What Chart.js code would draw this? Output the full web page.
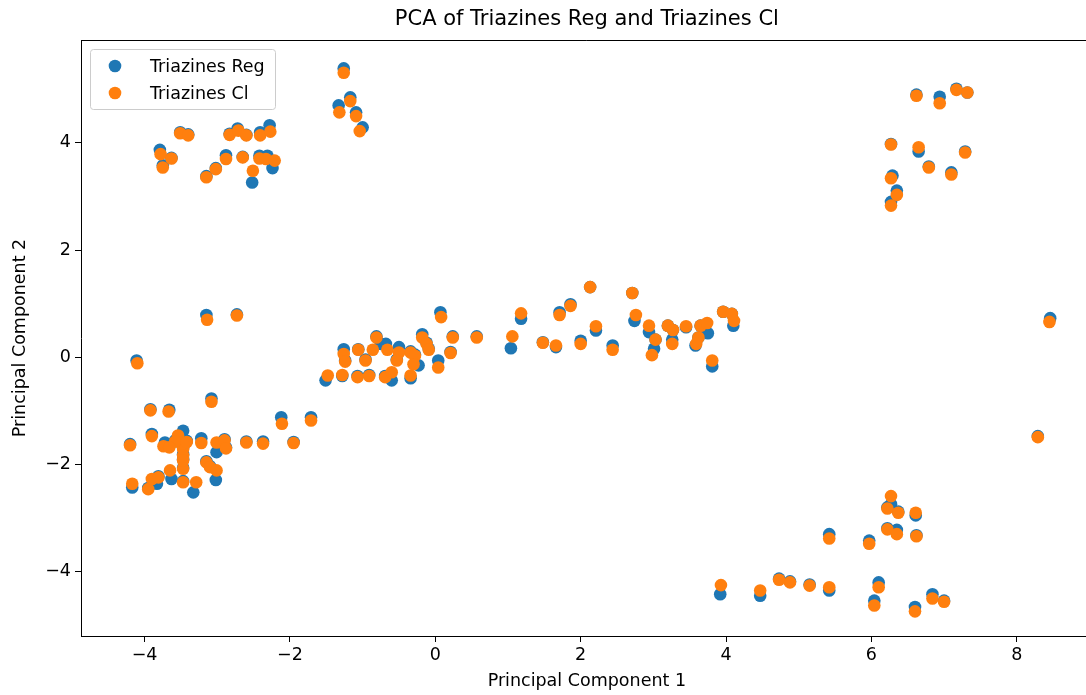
<!DOCTYPE html>
<html>
<head>
<meta charset="utf-8">
<title>PCA of Triazines Reg and Triazines Cl</title>
<script src="https://cdn.jsdelivr.net/npm/chart.js@4.4.1/dist/chart.umd.min.js"></script>
<style>
  html, body { margin: 0; padding: 0; background: #fff; overflow: hidden; }
  canvas { display: block; }
</style>
</head>
<body>
<canvas id="c" width="1099" height="695"></canvas>
<script>
// PCA scores, Triazines Reg
const regX = [
  -1.26, -1.17, -1.33, -1.09, -1.00, -3.51, -3.40, -3.79, -3.63, -3.75, -3.15, -3.02,
  -2.88, -2.83, -2.72, -2.60, -2.41, -2.28, -2.65, -2.42, -2.31, -2.24, -2.52,
  -3.15, -2.73, -4.11, -3.08, -3.92, -3.66, -3.90, -4.20, -3.72, -3.47, -3.51, -3.47,
  -3.47, -3.22, -3.01, -2.90, -2.88, -2.60, -2.37, -2.12, -1.95, -1.71, -4.17, -3.95,
  -3.83, -3.81, -3.63, -3.47, -3.47, -3.33, -3.15, -3.10, -3.02,
  -1.51, -1.28, -1.26, -1.24, -1.06, -1.07, -0.96, -0.91, -0.81, -0.75, -0.68, -0.69,
  -0.60, -0.50, -0.53, -0.34, -0.28, -0.23, -0.34, -0.18, -0.12, -0.09, 0.04, 0.07,
  0.21, 0.24, 0.57, 1.04, 1.18, 1.48, 1.66, 1.71, 1.86, 2.00, 2.13, 2.21, 2.44, 2.71,
  2.74, 2.94, 3.03, 3.01, 3.20, 3.27, 3.26, 3.45, 3.65, 3.75, 3.62, 3.58, 3.81, 3.96,
  4.08, 4.10,
  6.62, 6.94, 7.17, 7.32, 6.27, 6.65, 7.29, 6.79, 7.10, 6.29, 6.35, 6.27,
  8.46, 8.29,
  6.27, 6.22, 6.37, 6.61, 6.22, 6.35, 6.62, 5.42, 5.97, 3.92, 4.47, 4.73, 4.88, 5.15,
  5.42, 6.10, 6.04, 6.60, 6.84, 7.00,
  -3.58, -3.42, -3.66, -3.47
];
const regY = [
  5.39, 4.85, 4.70, 4.57, 4.29, 4.20, 4.16, 3.87, 3.72, 3.58, 3.38, 3.53,
  3.77, 4.17, 4.27, 4.15, 4.20, 4.33, 3.74, 3.76, 3.76, 3.53, 3.26,
  0.79, 0.80, -0.06, -0.77, -0.97, -0.98, -1.43, -1.62, -1.59, -1.37, -1.57, -1.69,
  -1.81, -1.51, -1.77, -1.53, -1.68, -1.57, -1.57, -1.12, -1.58, -1.12, -2.43, -2.44,
  -2.36, -2.22, -2.27, -2.06, -2.31, -2.52, -1.94, -2.03, -2.29,
  -0.43, -0.35, 0.15, -0.06, 0.15, -0.35, -0.04, -0.33, 0.39, 0.25, 0.25, -0.35,
  -0.43, 0.19, -0.04, 0.11, 0.05, -0.15, -0.39, 0.43, 0.27, 0.16, -0.06, 0.84,
  0.10, 0.39, 0.39, 0.17, 0.72, 0.28, 0.19, 0.84, 0.99, 0.31, 1.31, 0.50, 0.22, 1.20,
  0.68, 0.47, 0.33, 0.16, 0.59, 0.51, 0.33, 0.56, 0.59, 0.45, 0.37, 0.22, -0.17, 0.85,
  0.81, 0.59,
  4.90, 4.86, 5.01, 4.94, 3.98, 3.84, 3.84, 3.56, 3.45, 3.39, 3.11, 2.90,
  0.73, -1.47,
  -2.74, -2.80, -2.88, -2.95, -3.19, -3.22, -3.32, -3.30, -3.42, -4.42, -4.45, -4.13,
  -4.18, -4.24, -4.35, -4.20, -4.54, -4.66, -4.42, -4.54,
  -1.55, -1.56, -1.66, -1.90
];

// PCA scores, Triazines Cl
const clX = [
  -1.26, -1.17, -1.32, -1.09, -1.04, -3.51, -3.40, -3.78, -3.63, -3.75, -3.15, -3.02,
  -2.88, -2.83, -2.71, -2.60, -2.41, -2.27, -2.65, -2.42, -2.33, -2.21, -2.51,
  -3.14, -2.73, -4.10, -3.08, -3.92, -3.67, -3.90, -4.20, -3.74, -3.54, -3.51, -3.47,
  -3.47, -3.22, -3.01, -2.90, -2.88, -2.60, -2.37, -2.11, -1.95, -1.71, -4.17, -3.95,
  -3.90, -3.81, -3.65, -3.47, -3.47, -3.29, -3.15, -3.10, -3.01,
  -1.48, -1.28, -1.26, -1.24, -1.06, -1.07, -0.96, -0.91, -0.81, -0.86, -0.66, -0.69,
  -0.60, -0.50, -0.53, -0.34, -0.28, -0.30, -0.34, -0.18, -0.12, -0.09, 0.04, 0.08,
  0.21, 0.24, 0.57, 1.06, 1.18, 1.48, 1.66, 1.71, 1.86, 2.00, 2.13, 2.21, 2.44, 2.71,
  2.76, 2.94, 3.03, 2.98, 3.20, 3.27, 3.26, 3.45, 3.65, 3.74, 3.62, 3.59, 3.81, 3.96,
  4.08, 4.11,
  6.62, 6.94, 7.17, 7.32, 6.27, 6.65, 7.29, 6.79, 7.10, 6.27, 6.35, 6.27,
  8.45, 8.29,
  6.27, 6.22, 6.37, 6.61, 6.22, 6.35, 6.62, 5.42, 5.97, 3.93, 4.47, 4.73, 4.88, 5.15,
  5.42, 6.10, 6.04, 6.60, 6.84, 7.00,
  -3.58, -3.42, -3.66, -3.47
];
const clY = [
  5.31, 4.78, 4.57, 4.50, 4.22, 4.18, 4.14, 3.79, 3.71, 3.54, 3.36, 3.51,
  3.70, 4.15, 4.23, 4.14, 4.14, 4.21, 3.73, 3.71, 3.70, 3.67, 3.48,
  0.70, 0.78, -0.11, -0.83, -0.99, -1.01, -1.47, -1.64, -1.66, -1.46, -1.59, -1.71,
  -1.83, -1.60, -1.59, -1.55, -1.70, -1.59, -1.61, -1.24, -1.60, -1.18, -2.36, -2.46,
  -2.27, -2.24, -2.11, -2.08, -2.33, -2.33, -1.96, -2.05, -2.11,
  -0.34, -0.33, 0.06, -0.08, 0.14, -0.37, -0.06, -0.35, 0.37, 0.14, 0.14, -0.37,
  -0.28, 0.09, -0.06, 0.09, 0.03, -0.13, -0.34, 0.37, 0.25, 0.14, -0.19, 0.75,
  0.08, 0.37, 0.37, 0.39, 0.82, 0.27, 0.22, 0.79, 0.96, 0.25, 1.31, 0.58, 0.14, 1.20,
  0.79, 0.59, 0.33, 0.04, 0.59, 0.51, 0.25, 0.58, 0.59, 0.64, 0.37, 0.25, -0.06, 0.85,
  0.81, 0.68,
  4.88, 4.74, 4.99, 4.94, 3.97, 3.92, 3.82, 3.54, 3.41, 3.34, 3.03, 2.83,
  0.66, -1.49,
  -2.59, -2.82, -2.90, -2.90, -3.21, -3.30, -3.34, -3.38, -3.48, -4.25, -4.35, -4.15,
  -4.20, -4.26, -4.29, -4.29, -4.63, -4.74, -4.50, -4.56,
  -1.57, -1.58, -1.68, -1.92
];

const xTicks = [-4, -2, 0, 2, 4, 6, 8];
const yTicks = [-4, -2, 0, 2, 4];
const seriesNames = ['Triazines Reg', 'Triazines Cl'];
const seriesColors = ['#1f77b4', '#ff7f0e'];

const toPoints = (xs, ys) => xs.map((x, i) => ({ x: x, y: ys[i] }));
const fmt = v => (v < 0 ? '\u2212' + Math.abs(v) : String(v));
const FONT = "'DejaVu Sans', 'Liberation Sans', sans-serif";
const TEXT = 17.5;

// Top/right spines and the boxed legend in the upper-left corner of the plot
const framePlugin = {
  id: 'frame',
  afterDraw(chart) {
    const { ctx, chartArea: a } = chart;
    ctx.save();
    ctx.strokeStyle = '#000';
    ctx.lineWidth = 1;
    ctx.beginPath();
    ctx.moveTo(a.left, a.top + 0.5);
    ctx.lineTo(a.right, a.top + 0.5);
    ctx.moveTo(a.right - 0.5, a.top);
    ctx.lineTo(a.right - 0.5, a.bottom);
    ctx.stroke();

    // legend box
    const bx = 90.5, by = 49.5, bw = 185, bh = 60;
    ctx.beginPath();
    ctx.roundRect(bx, by, bw, bh, 3);
    ctx.fillStyle = 'rgba(255,255,255,0.8)';
    ctx.fill();
    ctx.strokeStyle = '#cccccc';
    ctx.stroke();

    ctx.font = TEXT + 'px ' + FONT;
    ctx.textBaseline = 'middle';
    ctx.textAlign = 'left';
    const rows = [66, 93];
    seriesNames.forEach((name, i) => {
      ctx.beginPath();
      ctx.arc(115, rows[i], 6.3, 0, Math.PI * 2);
      ctx.fillStyle = seriesColors[i];
      ctx.fill();
      ctx.fillStyle = '#000';
      ctx.fillText(name, 150, rows[i] + 1);
    });
    ctx.restore();
  }
};

new Chart(document.getElementById('c'), {
  type: 'scatter',
  data: {
    datasets: [
      {
        label: seriesNames[0],
        data: toPoints(regX, regY),
        backgroundColor: seriesColors[0],
        borderWidth: 0,
        pointRadius: 6.3,
        order: 2
      },
      {
        label: seriesNames[1],
        data: toPoints(clX, clY),
        backgroundColor: seriesColors[1],
        borderWidth: 0,
        pointRadius: 6.3,
        order: 1
      }
    ]
  },
  options: {
    responsive: false,
    animation: false,
    events: [],
    layout: { padding: 0 },
    plugins: {
      legend: { display: false },
      tooltip: { enabled: false },
      title: {
        display: true,
        fullSize: false,
        text: 'PCA of Triazines Reg and Triazines Cl',
        color: '#000',
        font: { family: FONT, size: 21, weight: 'normal', lineHeight: 1.2 },
        padding: { top: 7.4, bottom: 7.4 }
      }
    },
    scales: {
      x: {
        type: 'linear',
        min: -4.875,
        max: 9.045,
        afterBuildTicks: s => { s.ticks = xTicks.map(v => ({ value: v })); },
        afterFit: s => { s.height = 59; },
        grid: { drawOnChartArea: false, drawTicks: true, tickLength: 6, tickColor: '#000', tickWidth: 1 },
        border: { display: true, color: '#000', width: 1 },
        ticks: {
          color: '#000',
          padding: 3,
          maxRotation: 0,
          font: { family: FONT, size: TEXT },
          callback: v => fmt(v)
        },
        title: {
          display: true,
          text: 'Principal Component 1',
          color: '#000',
          font: { family: FONT, size: TEXT, lineHeight: 1.2 },
          padding: { top: 0, bottom: 3.5 }
        }
      },
      y: {
        type: 'linear',
        min: -5.20,
        max: 5.92,
        afterBuildTicks: s => { s.ticks = yTicks.map(v => ({ value: v })); },
        afterFit: s => { s.width = 81; },
        grid: { drawOnChartArea: false, drawTicks: true, tickLength: 6, tickColor: '#000', tickWidth: 1 },
        border: { display: true, color: '#000', width: 1 },
        ticks: {
          color: '#000',
          padding: 4,
          font: { family: FONT, size: TEXT },
          callback: v => fmt(v)
        },
        title: {
          display: true,
          text: 'Principal Component 2',
          color: '#000',
          font: { family: FONT, size: TEXT, lineHeight: 1.2 },
          padding: { top: 9.5, bottom: 0 }
        }
      }
    }
  },
  plugins: [framePlugin]
});
</script>
</body>
</html>
